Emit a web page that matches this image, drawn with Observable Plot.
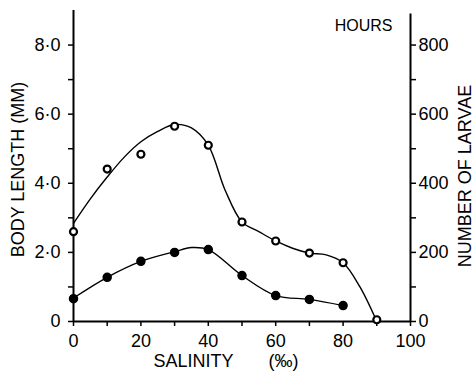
<!DOCTYPE html>
<html>
<head>
<meta charset="utf-8">
<script src="https://cdn.jsdelivr.net/npm/d3@7"></script>
<script src="https://cdn.jsdelivr.net/npm/@observablehq/plot@0.6"></script>
<style>
  html, body { margin: 0; padding: 0; background: white; }
</style>
</head>
<body>
<div id="chart"></div>
<script>
// Observed points
const salinity = [0, 10, 20, 30, 40, 50, 60, 70, 80, 90];
const openValues = [2.6, 4.41, 4.84, 5.65, 5.1, 2.88, 2.33, 1.98, 1.70, 0.05];
const filledSalinity = [0, 10, 20, 30, 40, 50, 60, 70, 80];
const filledValues = [0.66, 1.28, 1.74, 2.0, 2.08, 1.33, 0.75, 0.64, 0.46];

// Hand-drawn fitted curves
const openCurveX = [0, 5, 10, 15, 20, 25, 30, 35, 40, 45, 50, 55, 60, 65, 70, 75, 80, 85, 90];
const openCurveY = [2.84, 3.55, 4.18, 4.75, 5.2, 5.5, 5.7, 5.6, 5.1, 3.8, 2.88, 2.6, 2.33, 2.12, 1.98, 1.93, 1.7, 1.0, 0];
const filledCurveX = [0, 10, 20, 30, 35, 40, 50, 60, 70, 80];
const filledCurveY = [0.68, 1.28, 1.74, 2.02, 2.14, 2.08, 1.33, 0.75, 0.64, 0.46];

// Ticks
const xTicks = [0, 10, 20, 30, 40, 50, 60, 70, 80, 90, 100];
const xTickLabels = {0: "0", 20: "20", 40: "40", 60: "60", 80: "80", 100: "100"};
const yTicks = [0, 1, 2, 3, 4, 5, 6, 7, 8];
const leftTickLabels = {0: "0", 2: "2·0", 4: "4·0", 6: "6·0", 8: "8·0"};
const rightTickLabels = {0: "0", 2: "200", 4: "400", 6: "600", 8: "800"};

const xTitle = "SALINITY\u00a0\u00a0\u00a0\u00a0\u00a0\u00a0\u00a0(‰)";
const leftTitle = "BODY LENGTH (MM)";
const rightTitle = "NUMBER OF LARVAE";
const cornerTitle = "HOURS";

const openPts = salinity.map((x, i) => ({x, y: openValues[i]}));
const filledPts = filledSalinity.map((x, i) => ({x, y: filledValues[i]}));
const openCurve = openCurveX.map((x, i) => ({x, y: openCurveY[i]}));
const filledCurve = filledCurveX.map((x, i) => ({x, y: filledCurveY[i]}));

const font = "Liberation Sans, Arial, sans-serif";

const chart = Plot.plot({
  width: 475,
  height: 374,
  marginLeft: 73,
  marginRight: 65,
  marginTop: 10,
  marginBottom: 53,
  x: {domain: [0, 100]},
  y: {domain: [0, 9]},
  style: {fontFamily: font, fontSize: "18px", background: "white", color: "black", overflow: "visible"},
  marks: [
    Plot.axisX({ticks: xTicks, tickSize: 5, tickPadding: 8, strokeWidth: 1.5,
      tickFormat: d => xTickLabels[d] ?? "", label: null, fontSize: 18}),
    Plot.axisY({anchor: "left", ticks: yTicks, tickSize: 5, tickPadding: 8, strokeWidth: 1.5,
      tickFormat: d => leftTickLabels[d] ?? "", label: null, fontSize: 18}),
    Plot.axisY({anchor: "right", ticks: yTicks, tickSize: 5, tickPadding: 3, strokeWidth: 1.5,
      tickFormat: d => rightTickLabels[d] ?? "", label: null, fontSize: 18}),
    Plot.ruleY([0], {x1: 0, x2: 100, strokeWidth: 2}),
    Plot.ruleX([0], {y1: 0, y2: 9, strokeWidth: 2}),
    Plot.ruleX([100], {y1: 0, y2: 8.9, strokeWidth: 2}),
    Plot.line(openCurve, {x: "x", y: "y", curve: "catmull-rom", stroke: "black", strokeWidth: 1.4}),
    Plot.line(filledCurve, {x: "x", y: "y", curve: "catmull-rom", stroke: "black", strokeWidth: 1.4}),
    Plot.dot(openPts, {x: "x", y: "y", r: 3.5, fill: "white", stroke: "black", strokeWidth: 2.2}),
    Plot.dot(filledPts, {x: "x", y: "y", r: 4, fill: "black", stroke: "black"}),
    Plot.text([xTitle], {frameAnchor: "bottom", dx: -16, dy: 40, text: d => d, fontSize: 18, lineAnchor: "middle"}),
    Plot.text([leftTitle], {frameAnchor: "left", dx: -55, dy: 3.5, rotate: -90, text: d => d, fontSize: 18, textAnchor: "middle", lineAnchor: "middle"}),
    Plot.text([rightTitle], {frameAnchor: "right", dx: 55, dy: 10, rotate: -90, text: d => d, fontSize: 18, textAnchor: "middle", lineAnchor: "middle"}),
    Plot.text([cornerTitle], {frameAnchor: "top-right", dx: -18, dy: 15, text: d => d, fontSize: 16, textAnchor: "end", lineAnchor: "middle"})
  ]
});
document.getElementById("chart").appendChild(chart);
</script>
</body>
</html>
